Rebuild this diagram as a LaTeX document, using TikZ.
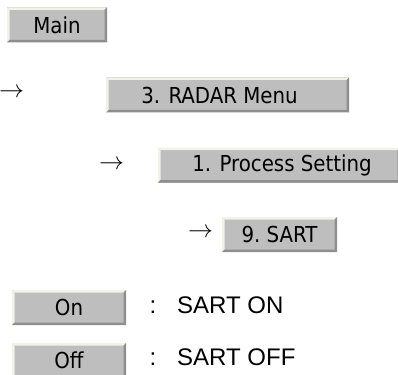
\documentclass[tikz,border=0pt]{standalone}
\usepackage{fontspec}
\setmainfont{Liberation Sans}
\newfontfamily\btnfont{DejaVu Sans Condensed}
\definecolor{btnfill}{HTML}{BEBEBE}
\definecolor{btnlight}{HTML}{F2F2EA}
\definecolor{btndark}{HTML}{8E8E8E}
\tikzset{
  btn/.style={rectangle, fill=btnfill, inner sep=0pt, minimum height=35pt,
    font=\btnfont\fontsize{22}{26}\selectfont, text=black,
    path picture={
      \path (path picture bounding box.north west) coordinate (pNW)
            (path picture bounding box.north east) coordinate (pNE)
            (path picture bounding box.south west) coordinate (pSW)
            (path picture bounding box.south east) coordinate (pSE);
      \fill[btnlight] (pNW) -- (pNE) -- ([shift={(-2.5pt,-2.5pt)}]pNE) -- ([shift={(2.5pt,-2.5pt)}]pNW) -- cycle;
      \fill[btnlight] (pNW) -- ([shift={(2.5pt,-2.5pt)}]pNW) -- ([shift={(2.5pt,2.5pt)}]pSW) -- (pSW) -- cycle;
      \fill[btndark] (pSW) -- ([shift={(2.5pt,2.5pt)}]pSW) -- ([shift={(-2.5pt,2.5pt)}]pSE) -- (pSE) -- cycle;
      \fill[btndark] (pNE) -- (pSE) -- ([shift={(-2.5pt,2.5pt)}]pSE) -- ([shift={(-2.5pt,-2.5pt)}]pNE) -- cycle;
    }},
  arrowtxt/.style={inner sep=0pt, anchor=west, font=\fontsize{26}{30}\selectfont},
  lbl/.style={inner sep=0pt, font=\fontsize{24}{28}\selectfont},
}
\begin{document}
\begin{tikzpicture}[x=1pt,y=-1pt]
\useasboundingbox (0,0) rectangle (398,374);
\node[btn, minimum width=100pt] (main) at (57,25) {Main};
\node[arrowtxt] (a1) at (-1,93) {$\rightarrow$};
\node[btn, minimum width=243pt] (radar) at (227.5,95) {3. RADAR Menu\hspace*{16pt}};
\node[arrowtxt] (a2) at (99,165) {$\rightarrow$};
\node[btn, minimum width=242pt] (proc) at (279,165) {\hspace*{6pt}1. Process Setting};
\node[arrowtxt] (a3) at (188,233) {$\rightarrow$};
\node[btn, minimum width=115pt] (sart) at (279.5,234.5) {9.\ SART};
\node[btn, minimum width=114pt] (on) at (69,307.5) {On};
\node[btn, minimum width=114pt] (off) at (69,360.5) {Off};
\node[lbl, anchor=base] (c1) at (153,313) {:};
\node[lbl, anchor=base west] (t1) at (177,313) {SART ON};
\node[lbl, anchor=base] (c2) at (153,365) {:};
\node[lbl, anchor=base west] (t2) at (177,365) {SART OFF};
\end{tikzpicture}
\end{document}
